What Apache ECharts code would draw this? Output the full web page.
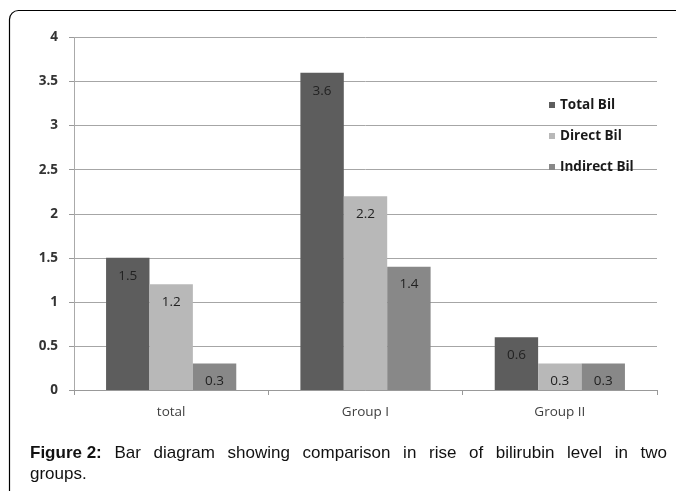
<!DOCTYPE html>
<html>
<head>
<meta charset="utf-8">
<script src="https://cdn.jsdelivr.net/npm/echarts@6/dist/echarts.min.js"></script>
<style>
html, body { margin: 0; padding: 0; background: #fff; }
#bar-1 { width: 676px; height: 491px; }
</style>
</head>
<body>
<div id="bar-1"></div>
<script>
var categories = ['total', 'Group I', 'Group II'];
var seriesNames = ['Total Bil', 'Direct Bil', 'Indirect Bil'];
var totalBil = [1.5, 3.6, 0.6];
var directBil = [1.2, 2.2, 0.3];
var indirectBil = [0.3, 1.4, 0.3];
var yTicks = [0, 0.5, 1, 1.5, 2, 2.5, 3, 3.5, 4];
var colors = ['#5d5d5d', '#b8b8b8', '#888888'];
var captionBold = 'Figure 2:';
var captionLine1 = 'Bar diagram showing comparison in rise of bilirubin level in two';
var captionLine2 = 'groups.';

var chartDom = document.getElementById('bar-1');
var myChart = echarts.init(chartDom);

function makeSeries(name, data, color) {
    return {
        name: name,
        type: 'bar',
        data: data,
        barGap: '0%',
        barCategoryGap: '33%',
        itemStyle: { color: color },
        label: {
            show: true,
            position: 'insideTop',
            distance: 11,
            color: '#222',
            fontSize: 13.5,
            fontFamily: 'Open Sans'
        }
    };
}

// caption is justified in the reference: spread the words over the line
function captionWords() {
    var fontSize = 17;
    var ctx = document.createElement('canvas').getContext('2d');
    var words = [{ text: captionBold, bold: true }];
    captionLine1.split(' ').forEach(function (w) { words.push({ text: w, bold: false }); });
    var left = 30, right = 667, total = 0;
    words.forEach(function (w) {
        ctx.font = (w.bold ? 'bold ' : '') + fontSize + 'px "Liberation Sans"';
        w.width = ctx.measureText(w.text).width;
        total += w.width;
    });
    var gap = (right - left - total) / (words.length - 1);
    var x = left, els = [];
    words.forEach(function (w) {
        els.push({
            type: 'text',
            x: x,
            y: 453,
            style: {
                text: w.text,
                fontSize: fontSize,
                fontWeight: w.bold ? 'bold' : 'normal',
                fontFamily: 'Liberation Sans',
                fill: '#111',
                verticalAlign: 'middle'
            }
        });
        x += w.width + gap;
    });
    els.push({
        type: 'text',
        x: left,
        y: 474,
        style: {
            text: captionLine2,
            fontSize: fontSize,
            fontFamily: 'Liberation Sans',
            fill: '#111',
            verticalAlign: 'middle'
        }
    });
    return els;
}

option = {
    animation: false,
    textStyle: { fontFamily: 'Open Sans' },
    grid: { left: 74, right: 19, top: 37.5, bottom: 101 },
    legend: {
        orient: 'vertical',
        left: 549,
        top: 97,
        padding: 0,
        itemGap: 15,
        itemWidth: 6,
        itemHeight: 6,
        icon: 'rect',
        data: seriesNames,
        textStyle: { fontWeight: 'bold', fontSize: 13.5, lineHeight: 16, color: '#1a1a1a', fontFamily: 'Open Sans' }
    },
    xAxis: {
        type: 'category',
        data: categories,
        axisLine: { lineStyle: { color: '#999', width: 1 } },
        axisTick: { show: true, length: 5, lineStyle: { color: '#999' } },
        axisLabel: { color: '#404040', fontSize: 13.5, margin: 15 }
    },
    yAxis: {
        type: 'value',
        min: yTicks[0],
        max: yTicks[yTicks.length - 1],
        interval: 0.5,
        axisLine: { show: true, lineStyle: { color: '#aaa' } },
        axisTick: { show: true, length: 5, lineStyle: { color: '#999' } },
        splitLine: { lineStyle: { color: '#a6a6a6', width: 1 } },
        axisLabel: { color: '#333', fontSize: 13.5, fontWeight: 'bold', margin: 16 }
    },
    series: [
        makeSeries(seriesNames[0], totalBil, colors[0]),
        makeSeries(seriesNames[1], directBil, colors[1]),
        makeSeries(seriesNames[2], indirectBil, colors[2])
    ],
    graphic: [
        {
            type: 'rect',
            shape: { x: 9.5, y: 10.5, width: 720, height: 520, r: 9 },
            style: { fill: null, stroke: '#000', lineWidth: 1.2 },
            silent: true
        }
    ].concat(captionWords())
};

myChart.setOption(option);
</script>
</body>
</html>
